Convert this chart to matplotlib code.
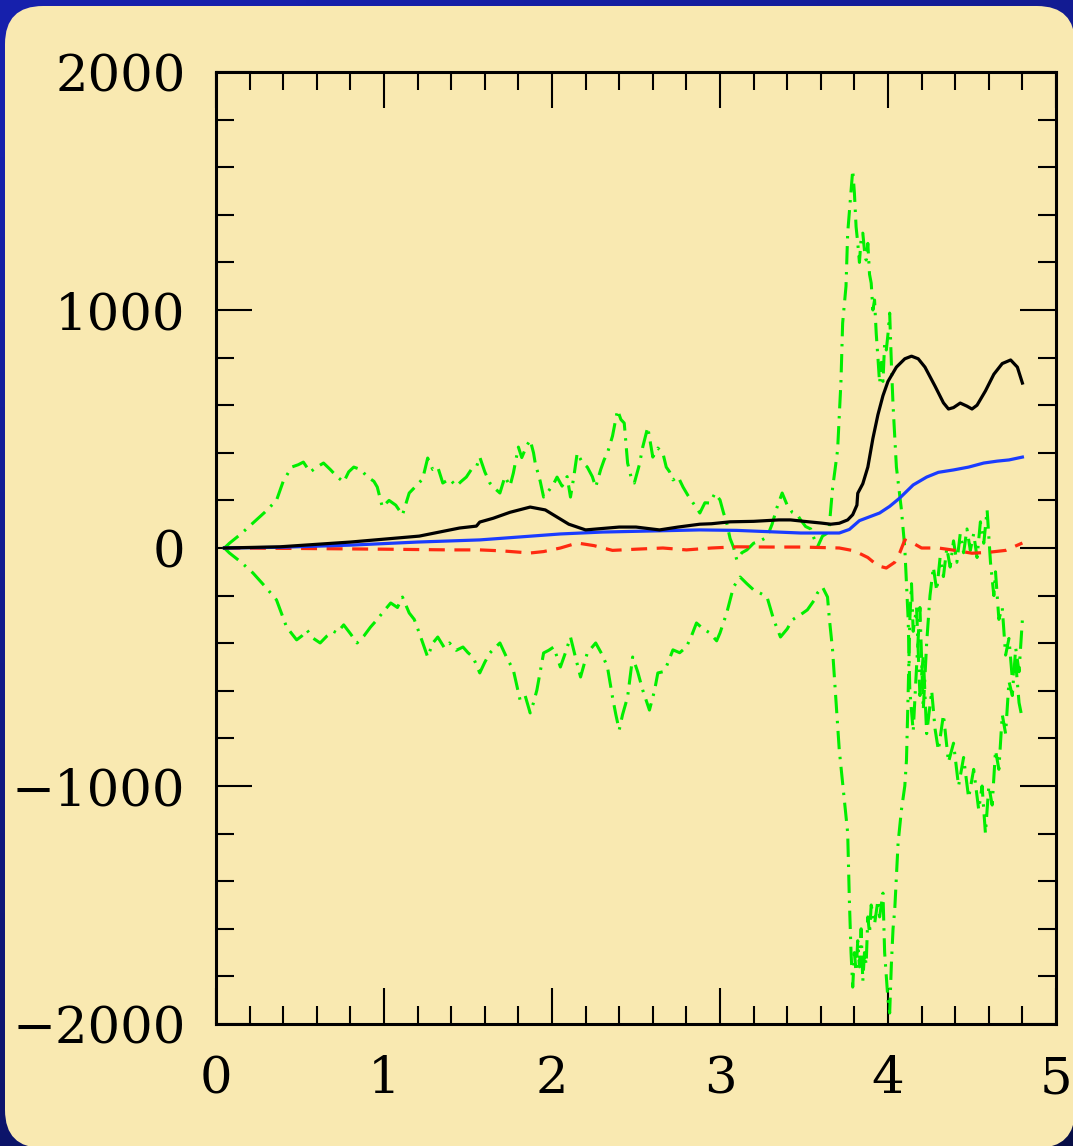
import numpy as np
import matplotlib
matplotlib.use("Agg")
import matplotlib.pyplot as plt
from matplotlib.patches import FancyBboxPatch

# ---------------- data ----------------
black_x = [0.05, 0.38, 0.8, 1.21, 1.45, 1.55, 1.57, 1.65, 1.75, 1.87, 1.96, 2.03, 2.1, 2.2, 2.3, 2.4,
           2.5, 2.64, 2.75, 2.88, 2.95, 3.06, 3.2, 3.35, 3.42, 3.5, 3.6, 3.66, 3.71, 3.76, 3.79, 3.815,
           3.82, 3.85, 3.88, 3.91, 3.94, 3.97, 4.0, 4.05, 4.1, 4.14, 4.18, 4.22, 4.28, 4.33, 4.36, 4.39,
           4.43, 4.47, 4.5, 4.53, 4.58, 4.63, 4.68, 4.73, 4.77, 4.8]
black_y = [0, 5, 25, 50, 84, 92, 109, 125, 150, 172, 160, 130, 100, 76, 82, 88,
           88, 76, 88, 100, 102, 110, 112, 118, 118, 112, 105, 100, 104, 118, 140, 180,
           230, 270, 340, 460, 560, 640, 700, 760, 795, 806, 795, 760, 680, 610, 584, 590,
           609, 596, 584, 600, 660, 730, 775, 790, 760, 693]

blue_x = [0.05, 0.38, 0.8, 1.2, 1.57, 2.05, 2.3, 2.88, 3.1, 3.48, 3.71, 3.77, 3.83, 3.95, 4.01, 4.07,
          4.15, 4.23, 4.3, 4.39, 4.48, 4.57, 4.65, 4.72, 4.8]
blue_y = [0, 3, 12, 25, 34, 59, 67, 76, 74, 63, 63, 78, 115, 147, 175, 210,
          265, 298, 318, 328, 340, 357, 365, 370, 382]

red_x = [0.05, 0.5, 1.0, 1.4, 1.57, 1.7, 1.87, 1.95, 2.05, 2.15, 2.25, 2.36, 2.5, 2.66, 2.8, 2.95,
         3.1, 3.3, 3.48, 3.6, 3.71, 3.8, 3.88, 3.94, 3.99, 4.04, 4.07, 4.1, 4.15, 4.2, 4.3, 4.4,
         4.5, 4.6, 4.7, 4.8]
red_y = [0, -2, -5, -8, -8, -12, -21, -15, 0, 21, 10, -10, -5, 0, -8, 0,
         5, 4, 4, 2, 0, -12, -40, -75, -84, -60, -20, 34, 20, 0, 0, -10,
         -22, -18, -10, 21]

green_up_x = [0.05, 0.08, 0.15, 0.22, 0.29, 0.36, 0.40, 0.45, 0.49, 0.52, 0.56, 0.60, 0.64, 0.68, 0.72,
              0.76, 0.79, 0.82, 0.86, 0.90, 0.94, 0.96, 0.99, 1.03, 1.07, 1.11, 1.15, 1.19, 1.23, 1.26,
              1.29, 1.32, 1.35, 1.39, 1.43, 1.46, 1.49, 1.52, 1.55, 1.57, 1.60, 1.63, 1.66, 1.69, 1.72,
              1.75, 1.77, 1.80, 1.82, 1.85, 1.87, 1.89, 1.90, 1.93, 1.95, 1.98, 2.01, 2.03, 2.06, 2.09,
              2.11, 2.13, 2.15, 2.18, 2.21, 2.24, 2.26, 2.29, 2.31, 2.33, 2.36, 2.39, 2.41, 2.43, 2.45,
              2.47, 2.49, 2.52, 2.54, 2.57, 2.60, 2.63, 2.66, 2.68, 2.70, 2.72, 2.75, 2.78, 2.81, 2.84,
              2.86, 2.88, 2.91, 2.94, 2.97, 3.00, 3.02, 3.04, 3.06, 3.08, 3.10, 3.13, 3.16, 3.20, 3.24,
              3.28, 3.31, 3.34, 3.37, 3.40, 3.43, 3.46, 3.48, 3.51, 3.54, 3.56, 3.58, 3.61, 3.64, 3.65,
              3.67, 3.70, 3.72, 3.73, 3.75, 3.76, 3.78, 3.79, 3.80, 3.81, 3.82, 3.83, 3.84, 3.85, 3.86,
              3.87, 3.88, 3.89, 3.90, 3.91, 3.92, 3.93, 3.94, 3.95, 3.96, 3.97, 3.98, 3.99, 4.00, 4.01,
              4.02, 4.03, 4.05, 4.08, 4.10, 4.12, 4.13, 4.15, 4.17, 4.19, 4.21, 4.23, 4.25, 4.27, 4.29,
              4.31, 4.33, 4.35, 4.37, 4.39, 4.41, 4.43, 4.45, 4.47, 4.49, 4.51, 4.53, 4.55, 4.57, 4.59,
              4.61, 4.63, 4.64, 4.66, 4.68, 4.70, 4.72, 4.74, 4.76, 4.78, 4.80]
green_up_y = [0, 20, 60, 105, 150, 200, 280, 340, 350, 361, 319, 340, 357, 330, 300,
              277, 320, 340, 330, 300, 280, 256, 172, 200, 180, 139, 231, 260, 290, 378,
              330, 340, 273, 290, 260, 280, 298, 330, 340, 382, 320, 273, 250, 231, 300,
              260, 315, 424, 380, 430, 454, 400, 357, 280, 214, 240, 270, 298, 260, 300,
              214, 300, 399, 360, 340, 300, 256, 330, 370, 399, 470, 580, 540, 525, 357,
              300, 273, 350, 424, 508, 382, 420, 399, 340, 320, 286, 300, 256, 220, 189,
              170, 147, 190, 189, 230, 202, 150, 105, 40, 4, -50, -20, -8, 20, 30,
              46, 100, 172, 231, 180, 150, 140, 118, 90, 80, 40, 4, 50, 63, 88,
              250, 412, 700, 945, 1100, 1323, 1500, 1588, 1492, 1350, 1281, 1200, 1300, 1323, 1250,
              1210, 1280, 1150, 1113, 1000, 1042, 900, 800, 693, 780, 700, 860, 832, 900, 987,
              777, 600, 340, 160, 0, -300, -600, -770, -500, -250, -680, -400, -200, -80, -180,
              -40, -120, 0, -80, 30, -60, 60, -20, 80, -10, 60, -40, 110, 20, 160,
              -60, -200, -100, -300, -250, -450, -380, -550, -480, -650, -720]

green_lo_x = [0.05, 0.08, 0.15, 0.22, 0.29, 0.36, 0.42, 0.48, 0.51, 0.54, 0.58, 0.62, 0.66, 0.70, 0.72,
              0.76, 0.80, 0.84, 0.88, 0.92, 0.96, 0.99, 1.04, 1.08, 1.11, 1.15, 1.18, 1.21, 1.26, 1.29,
              1.32, 1.36, 1.39, 1.43, 1.47, 1.50, 1.53, 1.57, 1.60, 1.63, 1.66, 1.69, 1.73, 1.77, 1.81,
              1.84, 1.87, 1.89, 1.91, 1.95, 1.98, 2.01, 2.05, 2.08, 2.11, 2.14, 2.17, 2.21, 2.26, 2.30,
              2.33, 2.36, 2.38, 2.40, 2.42, 2.45, 2.48, 2.51, 2.54, 2.58, 2.61, 2.63, 2.66, 2.68, 2.72,
              2.76, 2.80, 2.83, 2.86, 2.90, 2.94, 2.98, 3.00, 3.04, 3.08, 3.12, 3.16, 3.20, 3.24, 3.28,
              3.32, 3.36, 3.40, 3.43, 3.48, 3.52, 3.56, 3.58, 3.61, 3.64, 3.65, 3.67, 3.69, 3.71, 3.73,
              3.76, 3.77, 3.78, 3.79, 3.80, 3.81, 3.82, 3.83, 3.84, 3.85, 3.86, 3.87, 3.88, 3.89, 3.90,
              3.92, 3.94, 3.95, 3.97, 3.98, 3.99, 4.00, 4.01, 4.02, 4.03, 4.04, 4.06, 4.08, 4.10, 4.11,
              4.12, 4.13, 4.14, 4.15, 4.17, 4.19, 4.21, 4.23, 4.26, 4.28, 4.30, 4.33, 4.36, 4.39, 4.42,
              4.45, 4.48, 4.51, 4.54, 4.56, 4.58, 4.60, 4.62, 4.64, 4.66, 4.68, 4.70, 4.72, 4.74, 4.76,
              4.78, 4.80]
green_lo_y = [0, -21, -60, -105, -160, -218, -332, -386, -370, -344, -380, -399, -370, -350, -357,
              -323, -360, -399, -370, -332, -300, -273, -231, -250, -206, -273, -300, -357, -458, -400,
              -374, -420, -399, -430, -416, -440, -458, -525, -480, -441, -420, -399, -460, -513, -639,
              -620, -693, -650, -597, -441, -430, -416, -500, -440, -374, -460, -542, -441, -399, -450,
              -500, -626, -700, -765, -700, -626, -458, -520, -597, -681, -600, -525, -520, -500, -428,
              -440, -416, -370, -315, -340, -357, -390, -357, -273, -164, -122, -150, -176, -190, -206,
              -302, -374, -340, -302, -280, -260, -220, -189, -164, -206, -290, -428, -640, -849, -987,
              -1197, -1479, -1700, -1845, -1700, -1780, -1650, -1760, -1600, -1820, -1700, -1750, -1550, -1620, -1500,
              -1580, -1480, -1550, -1450, -1700, -1800, -1900, -1954, -1750, -1600, -1521, -1240, -1100, -1000, -891,
              -609, -300, -150, -350, -250, -620, -450, -780, -600, -760, -850, -700, -900, -820, -1000,
              -880, -1050, -930, -1100, -1000, -1200, -1000, -1080, -850, -930, -700, -780, -560, -620, -420,
              -520, -300]

xticks = [0, 1, 2, 3, 4, 5]
yticks = [-2000, -1000, 0, 1000, 2000]
xtick_labels = ["0", "1", "2", "3", "4", "5"]
ytick_labels = ["\u22122000", "\u22121000", "0", "1000", "2000"]

# ---------------- figure ----------------
W, H = 1073, 1146
fig = plt.figure(figsize=(W / 100, H / 100), dpi=100)

bg = fig.add_axes([0, 0, 1, 1])
bg.set_xlim(0, W)
bg.set_ylim(H, 0)
bg.axis("off")
gy = np.linspace(0, 1, 256)[:, None]
gx = np.linspace(0, 1, 256)[None, :]
t = np.clip(0.75 * gy + 0.35 * gx - 0.1, 0, 1)
top = np.array([22, 32, 172]) / 255
bot = np.array([8, 14, 70]) / 255
img = top[None, None, :] * (1 - t[..., None]) + bot[None, None, :] * t[..., None]
bg.imshow(img, extent=[0, W, H, 0], aspect="auto", zorder=0)
panel = FancyBboxPatch((5 + 38, 6 + 38), (W + 2) - 5 - 76, (H + 2) - 6 - 76,
                       boxstyle="round,pad=38,rounding_size=38",
                       facecolor="#f9e9b1", edgecolor="none", zorder=1)
bg.add_patch(panel)

ax = fig.add_axes([216 / W, 1 - 1024 / H, (1056 - 216) / W, (1024 - 72) / H])
ax.set_facecolor("none")

green_ls = (0, (6, 2.5, 0.8, 2.5))
ax.plot(green_up_x, green_up_y, color="#00ee00", lw=2.2, ls=green_ls, zorder=2)
ax.plot(green_lo_x, green_lo_y, color="#00ee00", lw=2.2, ls=green_ls, zorder=2)
ax.plot(red_x, red_y, color="#ff2a10", lw=2.3, ls=(0, (5, 3)), zorder=3)
ax.plot(blue_x, blue_y, color="#1a3cff", lw=2.3, zorder=4, solid_joinstyle="round")
ax.plot(black_x, black_y, color="black", lw=2.3, zorder=5, solid_joinstyle="round")

ax.set_xlim(0, 5)
ax.set_ylim(-2000, 2000)
ax.set_xticks(xticks)
ax.set_xticklabels(xtick_labels)
ax.set_yticks(yticks)
ax.set_yticklabels(ytick_labels)
ax.set_xticks(np.arange(0, 5.01, 0.2), minor=True)
ax.set_yticks(np.arange(-2000, 2001, 200), minor=True)

for s in ax.spines.values():
    s.set_linewidth(2.2)
ax.tick_params(which="both", direction="in", top=True, right=True, width=1.5, colors="black")
ax.tick_params(which="major", length=26)
ax.tick_params(which="minor", length=13)
ax.tick_params(axis="x", which="major", pad=22)
ax.tick_params(axis="y", which="major", pad=22)
for lab in ax.get_xticklabels() + ax.get_yticklabels():
    lab.set_fontfamily("DejaVu Serif")
    lab.set_fontsize(37)

fig.savefig("out.png", dpi=100)
